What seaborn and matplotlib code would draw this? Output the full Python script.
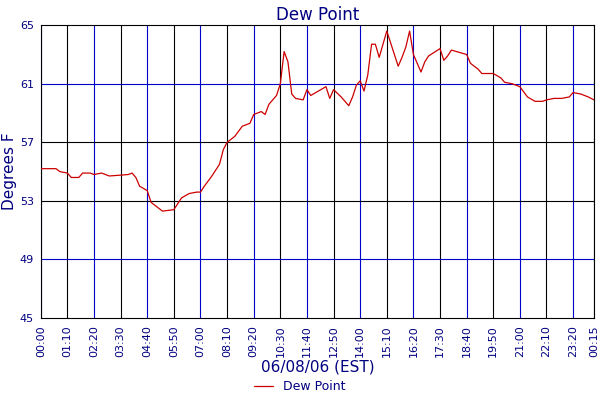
import matplotlib
matplotlib.use("Agg")
import matplotlib.pyplot as plt
import seaborn as sns
import pandas as pd

# time in "H:MM" (24:15 = next day 00:15), dew point in F
times = ["0:00", "0:40", "0:50", "1:10", "1:20", "1:40", "1:50", "2:10", "2:20", "2:40",
         "3:00", "3:50", "4:00", "4:10", "4:20", "4:40", "4:50", "5:00", "5:10", "5:20",
         "5:50", "6:00", "6:10", "6:30", "6:50", "7:00", "7:10", "7:30", "7:50", "8:00",
         "8:10", "8:30", "8:50", "9:10", "9:20", "9:40", "9:50", "10:00", "10:20", "10:30",
         "10:40", "10:50", "11:00", "11:10", "11:30", "11:40", "11:50", "12:10", "12:30", "12:40",
         "12:50", "13:10", "13:30", "13:40", "13:50", "14:00", "14:10", "14:20", "14:30", "14:40",
         "14:50", "15:10", "15:20", "15:40", "15:50", "16:00", "16:10", "16:20", "16:40", "16:50",
         "17:00", "17:30", "17:40", "17:50", "18:00", "18:40", "18:50", "19:10", "19:20", "19:50",
         "20:10", "20:20", "20:40", "21:00", "21:20", "21:40", "22:00", "22:10", "22:30", "22:50",
         "23:10", "23:20", "23:40", "24:00", "24:15"]
dew = [55.2, 55.2, 55.0, 54.9, 54.6, 54.6, 54.9, 54.9, 54.8, 54.9,
       54.7, 54.8, 54.9, 54.6, 54.0, 53.7, 52.9, 52.7, 52.5, 52.3,
       52.4, 52.8, 53.2, 53.5, 53.6, 53.6, 54.0, 54.7, 55.5, 56.5,
       57.0, 57.4, 58.1, 58.3, 58.9, 59.1, 58.9, 59.6, 60.2, 61.0,
       63.2, 62.5, 60.3, 60.0, 59.9, 60.6, 60.2, 60.5, 60.8, 60.0,
       60.6, 60.1, 59.5, 60.1, 60.9, 61.2, 60.5, 61.6, 63.7, 63.7,
       62.8, 64.6, 63.8, 62.2, 62.8, 63.5, 64.6, 63.0, 61.8, 62.5,
       62.9, 63.4, 62.6, 62.9, 63.3, 63.0, 62.4, 62.0, 61.7, 61.7,
       61.4, 61.1, 61.0, 60.8, 60.1, 59.8, 59.8, 59.9, 60.0, 60.0,
       60.1, 60.4, 60.3, 60.1, 59.9]
tick_labels = ["00:00", "01:10", "02:20", "03:30", "04:40", "05:50", "07:00", "08:10", "09:20",
               "10:30", "11:40", "12:50", "14:00", "15:10", "16:20", "17:30", "18:40", "19:50",
               "21:00", "22:10", "23:20", "00:15"]
y_ticks = [45, 49, 53, 57, 61, 65]

minutes = [int(t.split(":")[0]) * 60 + int(t.split(":")[1]) for t in times]
df = pd.DataFrame({"minute": minutes, "dew": dew})

sns.set_style("white")
navy = "#000080"
fig, ax = plt.subplots(figsize=(6, 4), dpi=100)
fig.subplots_adjust(left=0.068, right=0.99, top=0.937, bottom=0.205)

tick_pos = [i * 70 for i in range(len(tick_labels) - 1)] + [24 * 60 + 15]
for i, x in enumerate(tick_pos):
    ax.axvline(x, color="black" if i % 2 else "#0000cc", lw=0.8, zorder=1)
for y, c in zip(y_ticks[1:-1], ["#0000cc", "black", "black", "#0000cc"]):
    ax.axhline(y, color=c, lw=0.8, zorder=1)

sns.lineplot(data=df, x="minute", y="dew", ax=ax, color="#cc0000", lw=0.9,
             label="Dew Point", zorder=3, legend=False)

ax.set_xlim(0, 24 * 60 + 15)
ax.set_ylim(45, 65)
ax.set_xticks(tick_pos)
ax.set_xticklabels(tick_labels, rotation=90, fontsize=8, color=navy)
ax.set_yticks(y_ticks)
ax.set_yticklabels([str(v) for v in y_ticks], fontsize=8, color=navy)
ax.tick_params(length=3, pad=2)
ax.set_xlabel("06/08/06 (EST)", fontsize=11, color=navy, labelpad=2)
ax.set_ylabel("Degrees F", fontsize=11, color=navy, labelpad=2)
ax.set_title("Dew Point", fontsize=12, color=navy, pad=4)
for s in ax.spines.values():
    s.set_color("black")
    s.set_linewidth(0.8)

handles, labels = ax.get_legend_handles_labels()
leg = fig.legend(handles, labels, loc="lower center", bbox_to_anchor=(0.5, -0.005),
                 frameon=False, fontsize=9, handlelength=1.5, borderpad=0.2)
for t in leg.get_texts():
    t.set_color(navy)

fig.savefig("out.png")
